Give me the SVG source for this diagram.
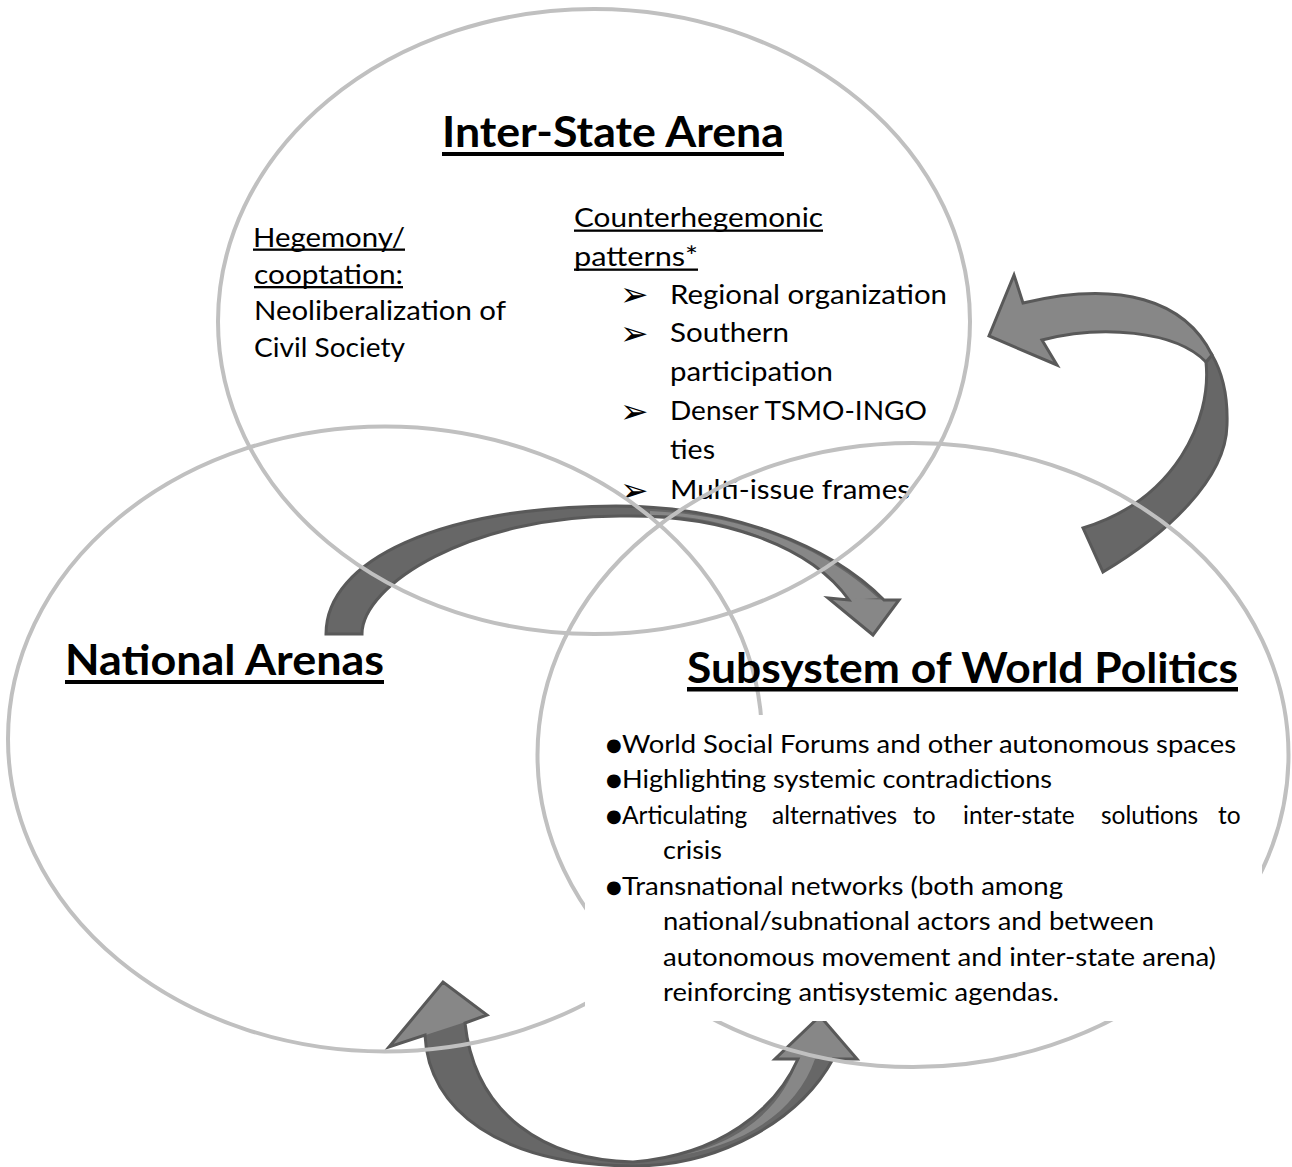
<svg xmlns="http://www.w3.org/2000/svg" width="1292" height="1167" viewBox="0 0 1292 1167">
<style>
.ell{fill:none;stroke:#c0c0c0;stroke-width:4}
.t{font-family:Lato,"Liberation Sans",sans-serif;fill:#000}
.body{font-size:26.5px}
.sub{font-size:24.5px}
.title{font-size:42px;font-weight:bold}
.ul{fill:#000}
.dark{fill:#676767}
.light{fill:#878787}
.edge{fill:none;stroke:#595959;stroke-width:3;stroke-linejoin:miter}
.sym{font-family:"DejaVu Sans",sans-serif;fill:#000}
.arb{font-size:34px}
.dot{font-size:18px}
</style>
<rect width="1292" height="1167" fill="#ffffff"/>

<g id="connectors">
  <g id="arrow-national-to-subsystem">
    <path class="dark" d="M326,634 C326,560 440,507 616,506 C730,506 830,545 884,600 L899,600 L873,635 L828,598 L849,600 C810,545 720,514 620,516 C470,516 362,585 362,634 Z"/>
    <path class="light" d="M650,511 C750,515 830,552 878,598 L849,600 C810,545 720,514 650,515 Z"/>
    <path class="light" d="M899,600 L873,635 L828,598 Z"/>
    <path class="edge" d="M326,634 C326,560 440,507 616,506 C730,506 830,545 884,600 L899,600 L873,635 L828,598 L849,600 C810,545 720,514 620,516 C470,516 362,585 362,634 Z"/>
  </g>
  <g id="arrow-subsystem-to-interstate">
    <path class="edge" style="fill:#676767" d="M1083,528 L1103,572 C1165,535 1226,480 1227,425 C1228,395 1222,372 1212,355 L1206,362 C1212,420 1175,500 1083,528 Z"/>
    <path class="edge" style="fill:#878787" d="M1212,355 C1185,300 1120,280 1023,303 L1014,275 L989,336 L1057,365 L1042,340 C1100,325 1175,330 1206,362 Z"/>
  </g>
  <g id="arrow-national-subsystem-mutual">
    <path class="dark" d="M425,1035 C428,1110 500,1165 633,1166 C720,1166 800,1120 833,1059 L857,1059 L820,1016 L775,1059 L798,1059 C775,1110 720,1155 633,1162 C545,1160 475,1115 465,1023 L487,1015 L443,982 L389,1047 Z"/>
    <path class="light" d="M665,1158 C735,1148 782,1110 798,1059 L815,1059 C797,1110 748,1146 665,1158 Z"/>
    <path class="light" d="M443,982 L389,1047 L487,1015 Z"/>
    <path class="light" d="M820,1016 L775,1059 L857,1059 Z"/>
    <path class="edge" d="M425,1035 C428,1110 500,1165 633,1166 C720,1166 800,1120 833,1059 L857,1059 L820,1016 L775,1059 L798,1059 C775,1110 720,1155 633,1162 C545,1160 475,1115 465,1023 L487,1015 L443,982 L389,1047 Z"/>
  </g>
</g>

<g id="node-inter-state-arena">
  <text class="t title" x="442" y="147" textLength="342" lengthAdjust="spacingAndGlyphs">Inter-State Arena</text>
  <rect class="ul" x="442" y="152" width="342" height="4"/>

  <text class="t body" x="253" y="246.5" textLength="152" lengthAdjust="spacingAndGlyphs">Hegemony/</text>
  <rect class="ul" x="253" y="248.5" width="152" height="2.3"/>
  <text class="t body" x="254" y="283.5" textLength="149" lengthAdjust="spacingAndGlyphs">cooptation:</text>
  <rect class="ul" x="254" y="286" width="149" height="2.3"/>
  <text class="t body" x="254" y="320" textLength="252" lengthAdjust="spacingAndGlyphs">Neoliberalization of</text>
  <text class="t body" x="254" y="357" textLength="151" lengthAdjust="spacingAndGlyphs">Civil Society</text>

  <text class="t body" x="574" y="227" textLength="249" lengthAdjust="spacingAndGlyphs">Counterhegemonic</text>
  <rect class="ul" x="574" y="229.5" width="249" height="2.3"/>
  <text class="t body" x="574" y="266" textLength="124" lengthAdjust="spacingAndGlyphs">patterns*</text>
  <rect class="ul" x="574" y="268.5" width="124" height="2.3"/>

  <text class="sym arb" x="620" y="306">➢</text>
  <text class="t body" x="670" y="303.5" textLength="277" lengthAdjust="spacingAndGlyphs">Regional organization</text>
  <text class="sym arb" x="620" y="344.5">➢</text>
  <text class="t body" x="670" y="342" textLength="119" lengthAdjust="spacingAndGlyphs">Southern</text>
  <text class="t body" x="670" y="381" textLength="163" lengthAdjust="spacingAndGlyphs">participation</text>
  <text class="sym arb" x="620" y="422.5">➢</text>
  <text class="t body" x="670" y="420" textLength="257" lengthAdjust="spacingAndGlyphs">Denser TSMO-INGO</text>
  <text class="t body" x="670" y="459" textLength="45" lengthAdjust="spacingAndGlyphs">ties</text>
  <text class="sym arb" x="620" y="501.5">➢</text>
  <text class="t body" x="670" y="499" textLength="240" lengthAdjust="spacingAndGlyphs">Multi-issue frames</text>

  <ellipse class="ell" cx="594" cy="321.5" rx="376" ry="312.5"/>
</g>

<g id="node-national-arenas">
  <ellipse class="ell" cx="385" cy="739" rx="377" ry="312.5"/>
  <text class="t title" x="65" y="675" textLength="319" lengthAdjust="spacingAndGlyphs">National Arenas</text>
  <rect class="ul" x="65" y="680" width="319" height="4"/>
</g>

<g id="node-subsystem-of-world-politics">
  <ellipse class="ell" cx="913" cy="755" rx="375.5" ry="312"/>
  <text class="t title" x="687" y="683" textLength="551" lengthAdjust="spacingAndGlyphs">Subsystem of World Politics</text>
  <rect class="ul" x="687" y="687" width="551" height="4.5"/>
  <rect x="585" y="715" width="677" height="306" fill="#ffffff"/>

  <text class="sym dot" x="606" y="750.5">●</text>
  <text class="t sub" x="622" y="752.5" textLength="614" lengthAdjust="spacingAndGlyphs">World Social Forums and other autonomous spaces</text>
  <text class="sym dot" x="606" y="786">●</text>
  <text class="t sub" x="622" y="788" textLength="430" lengthAdjust="spacingAndGlyphs">Highlighting systemic contradictions</text>
  <text class="sym dot" x="606" y="821.5">●</text>
  <text class="t sub" y="823.5"><tspan x="622">Articulating</tspan><tspan x="772">alternatives</tspan><tspan x="913">to</tspan><tspan x="963">inter-state</tspan><tspan x="1101">solutions</tspan><tspan x="1218">to</tspan></text>
  <text class="t sub" x="663" y="859" textLength="59" lengthAdjust="spacingAndGlyphs">crisis</text>
  <text class="sym dot" x="606" y="892.5">●</text>
  <text class="t sub" x="622" y="894.5" textLength="441" lengthAdjust="spacingAndGlyphs">Transnational networks (both among</text>
  <text class="t sub" x="663" y="930" textLength="491" lengthAdjust="spacingAndGlyphs">national/subnational actors and between</text>
  <text class="t sub" x="663" y="965.5" textLength="553" lengthAdjust="spacingAndGlyphs">autonomous movement and inter-state arena)</text>
  <text class="t sub" x="663" y="1001" textLength="396" lengthAdjust="spacingAndGlyphs">reinforcing antisystemic agendas.</text>
</g>
</svg>
